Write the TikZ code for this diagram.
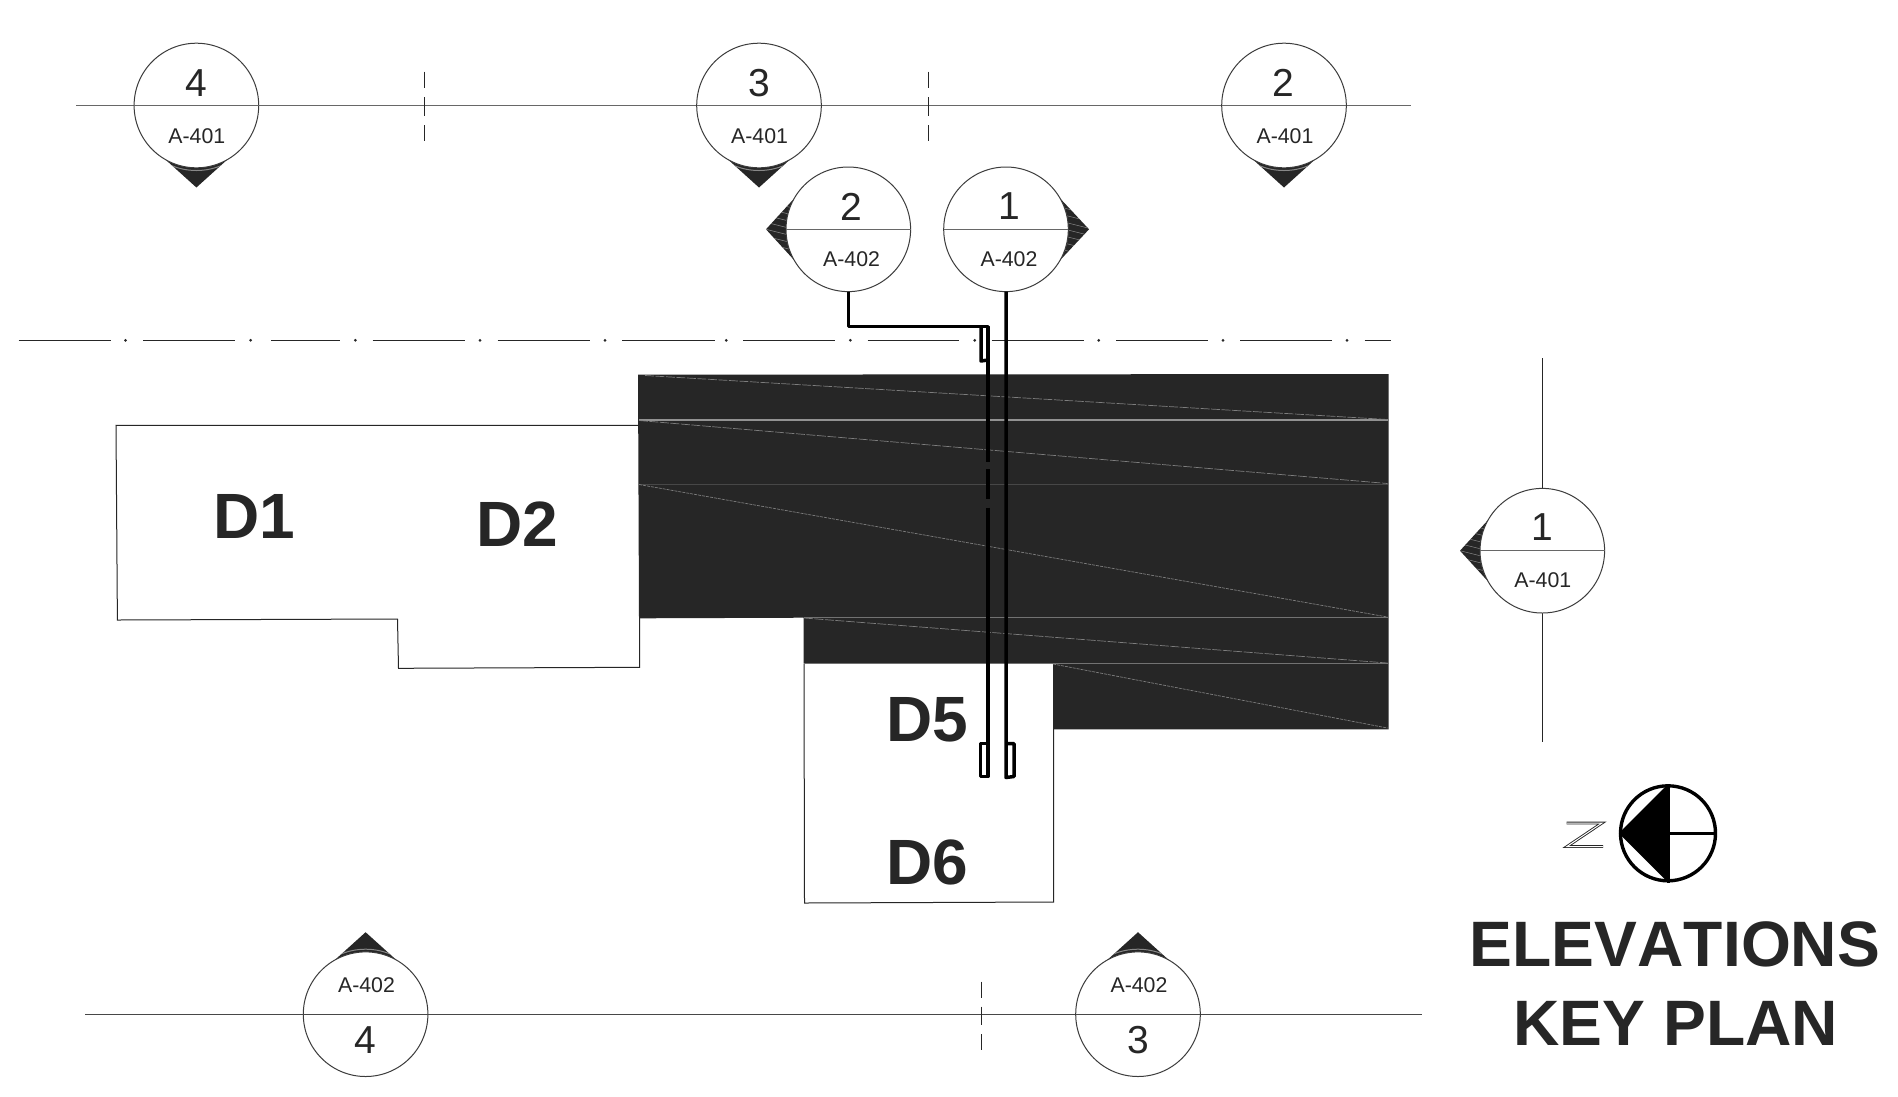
\documentclass[tikz,border=0pt]{standalone}
\usepackage{fontspec}
\setmainfont{Liberation Sans}
\definecolor{ink}{HTML}{262626}
\tikzset{
  secmark/.style={circle,draw=ink!90,line width=1pt,minimum size=124.6pt,inner sep=0pt,outer sep=0pt},
  hairline/.style={draw=ink!70,line width=1.3pt},
  breakline/.style={draw=ink,line width=.9pt},
  outline/.style={draw=ink,line width=1pt},
  leader/.style={draw=black,line width=3.5pt,line join=round},
  whiteseam/.style={draw=white!50!ink,line width=.9pt},
  diagseam/.style={draw=white!40!ink,line width=.7pt,dash pattern=on 9pt off 1.5pt},
  hatch/.style={draw=white!45!ink,line width=.5pt},
  bignum/.style={text=ink,font=\fontsize{39}{41}\selectfont,inner sep=0pt},
  sheet/.style={text=ink,font=\fontsize{21.3}{23}\selectfont,inner sep=0pt},
  roomlabel/.style={text=ink,font=\fontsize{64}{67}\selectfont\bfseries,inner sep=0pt},
  titletext/.style={text=ink,font=\fontsize{64.2}{67}\selectfont\bfseries\addfontfeature{Kerning=Off},inner sep=0pt},
}
\begin{document}
\begin{tikzpicture}[x=1pt,y=-1pt]
\useasboundingbox (0,0) rectangle (1898,1096);
\fill[white] (0,0) rectangle (1898,1096);

% dark block
\fill[ink] (638,374.7) -- (1388.5,374) -- (1388.5,729.3) -- (1053,729.3) -- (1053,663.7)
  -- (803.5,663.7) -- (803.5,617.7) -- (639,618.3) -- cycle;
\draw[whiteseam,line width=1.2pt] (639,420) -- (1387.5,420);
\draw[whiteseam,draw=white!15!ink] (639,484.3) -- (1387.5,484.3);
\draw[whiteseam,draw=white!35!ink] (804,617.7) -- (1387.5,617.7);
\draw[whiteseam,draw=white!35!ink] (1053,663.7) -- (1387.5,663.7);
\draw[diagseam] (645,375.5) -- (1387.5,419.5);
\draw[diagseam] (639,420.5) -- (1387.5,483.5);
\draw[diagseam,dash pattern=on 3pt off 1pt] (639,484.5) -- (1387.5,617);
\draw[diagseam] (804,618) -- (1387.5,663);
\draw[diagseam,dash pattern=on 3pt off 1pt] (1053,664) -- (1387.5,728);

% building outlines
\draw[outline] (638,425.3) -- (116,425.3) -- (117.4,620) -- (397.5,619) -- (398.5,668.3) -- (639.5,667.3) -- (639.5,618);
\draw[outline] (804,664) -- (804.5,903) -- (1053.5,902) -- (1053.5,729);

% room labels
\node[roomlabel] (d1) at (254,516.5) {D1};
\node[roomlabel] (d2) at (517,524) {D2};
\node[roomlabel] (d5) at (927,720) {D5};
\node[roomlabel] (d6) at (927,862.5) {D6};

% section lines
\coordinate (tl) at (76.3,105.5); \coordinate (tr) at (1411.4,105.5);
\coordinate (bl) at (85,1014.2); \coordinate (br) at (1422,1014.2);
\draw[hairline] (tl) -- (tr);
\draw[hairline,draw=ink!85,line width=1pt] (bl) -- (br);
\coordinate (vt) at (1542.3,358); \coordinate (vb) at (1542.3,742);
\draw[breakline] (vt) -- (vb);

% break marks
\foreach \x in {424,928} {
  \draw[breakline] (\x,71.7) -- (\x,88.3) (\x,97.3) -- (\x,116) (\x,125) -- (\x,140.7);
}
\draw[breakline] (981.7,981.7) -- (981.7,997.7) (981.7,1006.7) -- (981.7,1025.3) (981.7,1034) -- (981.7,1050);

% dash-dot centre line
\foreach \a/\b in {18.5/110.8,143/235.4,271/340,372.5/464.8,497.5/590,622/714.5,743.3/835,867.7/959,991.7/1083.5,1116/1207.7,1240/1332,1364.7/1391} {
  \draw[draw=ink,line width=1.1pt] (\a,340.3) -- (\b,340.3);
}
\foreach \x in {125.5,250.6,355.4,480,605,726.3,850.3,974.7,1098.7,1223,1347} {
  \fill[ink] (\x,340.3) circle (1.5pt);
}

% marker tips (down)
\foreach \cx/\cy in {196.4/105.5,759/105.5,1284/105.5} {
  \begin{scope}
    \clip (\cx-31,\cy+54) -- (\cx,\cy+82) -- (\cx+31,\cy+54) -- cycle;
    \fill[ink] (\cx-32,\cy+50) rectangle (\cx+32,\cy+83);
    \draw[hatch,line width=1pt] (\cx,\cy) circle (65pt);
  \end{scope}
}
% marker tips (up)
\foreach \cx/\cy in {365.6/1014.2,1138/1014.2} {
  \begin{scope}
    \clip (\cx-31,\cy-54) -- (\cx,\cy-82) -- (\cx+31,\cy-54) -- cycle;
    \fill[ink] (\cx-32,\cy-83) rectangle (\cx+32,\cy-50);
    \draw[hatch,line width=1pt] (\cx,\cy) circle (65pt);
  \end{scope}
}
% marker tips (left)
\foreach \cx/\cy/\tx in {848.3/229.3/766,1542.3/550.7/1460} {
  \begin{scope}
    \clip (\cx-54,\cy-31) -- (\tx,\cy) -- (\cx-54,\cy+31) -- cycle;
    \fill[ink] (\tx-1,\cy-32) rectangle (\cx-50,\cy+32);
    \foreach \d in {-28,-21,-14,-7,0,7,14,21} {
      \draw[hatch] (\tx,\cy+\d) -- (\tx+24,\cy+\d+6);
    }
  \end{scope}
}
% marker tip (right)
\begin{scope}
  \clip (1060,198.3) -- (1089,229.3) -- (1060,260.3) -- cycle;
  \fill[ink] (1056,197) rectangle (1090,262);
  \foreach \d in {-28,-21,-14,-7,0,7,14,21} {
    \draw[hatch] (1065,229.3+\d) -- (1089,229.3+\d+6);
  }
\end{scope}

\node[secmark,fill=white] (m4) at (196.4,105.5) {};
\node[secmark,fill=white] (m3) at (759,105.5) {};
\node[secmark,fill=white] (m2) at (1284,105.5) {};
\node[secmark,fill=white] (n2) at (848.3,229.3) {};
\node[secmark,fill=white] (n1) at (1006,229.3) {};
\node[secmark,fill=white] (r1) at (1542.3,550.7) {};
\node[secmark,fill=white] (b4) at (365.6,1014.2) {};
\node[secmark,fill=white] (b3) at (1138,1014.2) {};

% divider lines inside the markers
\foreach \m in {m4,m3,m2,n2,n1,r1} { \draw[hairline] (\m.west) -- (\m.east); }
\foreach \m in {b4,b3} { \draw[hairline,draw=ink!85,line width=1pt] (\m.west) -- (\m.east); }

% marker texts
\node[bignum] (t4) at (196.4,83) {4};       \node[sheet] (s4) at (196.8,136) {A-401};
\node[bignum] (t3) at (759,83) {3};         \node[sheet] (s3) at (759.6,136) {A-401};
\node[bignum] (t2) at (1283.5,83) {2};      \node[sheet] (s2) at (1285,136) {A-401};
\node[bignum] (u2) at (851.5,206.5) {2};    \node[sheet] (v2) at (851.6,259.5) {A-402};
\node[bignum] (u1) at (1009,206.5) {1};     \node[sheet] (v1) at (1009,259.5) {A-402};
\node[bignum] (w1) at (1542.5,527.5) {1};   \node[sheet] (x1) at (1542.8,580.5) {A-401};
\node[sheet] (y4) at (366.5,985) {A-402};   \node[bignum] (z4) at (365.6,1040.2) {4};
\node[sheet] (y3) at (1139,985) {A-402};    \node[bignum] (z3) at (1138,1040.2) {3};

% leaders
\coordinate (la) at (848.3,326.7);
\coordinate (lb) at (988,326.7);
\coordinate (lc) at (988,461.7);
\coordinate (ld) at (988,469.3);
\coordinate (le) at (988,499.3);
\coordinate (lf) at (988,507.7);
\coordinate (lg) at (988,776.5);
\draw[leader] (n2.south) -- (la) -- (lb) -- (lc);
\draw[leader] (ld) -- (le);
\draw[leader] (lf) -- (lg) -- (980.5,776.5) -- (980.5,743.5) -- (988,743.5);
\draw[leader] (981,327) -- (981,361) -- (988,360);
\coordinate (ma) at (1006,777.5);
\draw[leader] (n1.south) -- (ma) -- (1014,776.5) -- (1014,743.5) -- (1006,743.5);

% north mark
\coordinate (nc) at (1668,833.3);
\node[circle,draw=black,line width=3.4pt,minimum size=95pt,inner sep=0pt] (north) at (nc) {};
\fill[black] (north.west) -- (north.north) -- (north.south) -- cycle;
\draw[black,line width=3pt] (north.north) -- (north.south);
\draw[black,line width=3pt] (nc) -- (north.east);
\draw[line join=miter,draw=ink,line width=2.8pt] (1566.5,823) -- (1602,823) -- (1567,846.5) -- (1603,846.5);
\draw[line join=miter,draw=white,line width=1pt] (1566.5,823) -- (1602,823) -- (1567,846.5) -- (1603,846.5);

% title
\node[titletext] (title1) at (1675,944.3) {ELEVATIONS};
\node[titletext] (title2) at (1675.7,1023.7) {KEY PLAN};
\end{tikzpicture}
\end{document}
